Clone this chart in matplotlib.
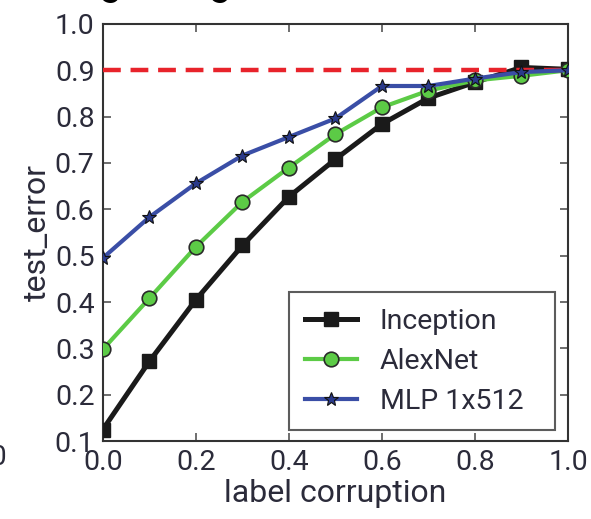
import numpy as np
import matplotlib
matplotlib.use("Agg")
import matplotlib.pyplot as plt

plt.rcParams['font.family'] = ['Roboto', 'DejaVu Sans']

corruption = [0.0, 0.1, 0.2, 0.3, 0.4, 0.5, 0.6, 0.7, 0.8, 0.9, 1.0]
inception = [0.125, 0.272, 0.405, 0.522, 0.627, 0.708, 0.784, 0.840, 0.874, 0.906, 0.902]
alexnet = [0.298, 0.408, 0.519, 0.616, 0.690, 0.762, 0.820, 0.856, 0.878, 0.888, 0.900]
mlp = [0.495, 0.583, 0.656, 0.716, 0.756, 0.796, 0.866, 0.866, 0.882, 0.896, 0.900]
chance = 0.9

xticks = [0.0, 0.2, 0.4, 0.6, 0.8, 1.0]
yticks = [0.1, 0.2, 0.3, 0.4, 0.5, 0.6, 0.7, 0.8, 0.9, 1.0]

TEXT = '#2b2b3a'

fig = plt.figure(figsize=(5.91, 5.19), dpi=100)
ax = fig.add_axes([0.174, 0.150, 0.787, 0.804])

ax.plot(corruption, inception, color='#1a1a1a', lw=3.6, marker='s', ms=10,
        mfc='#1a1a1a', mec='#1a1a1a', label='Inception', zorder=3)
ax.plot(corruption, alexnet, color='#5ccb46', lw=3.0, marker='o', ms=10.5,
        mfc='#5ccb46', mec='#2a2a2a', mew=1.2, label='AlexNet', zorder=4)
ax.plot(corruption, mlp, color='#3a4ea6', lw=3.0, marker='*', ms=10,
        mfc='#2a3a8a', mec='#111111', mew=0.8, label='MLP 1x512', zorder=5)
ax.axhline(chance, color='#e8232b', lw=3.2, dashes=(4.0, 2.2), zorder=4.5)

ax.set_xlim(0.0, 1.0)
ax.set_ylim(0.1, 1.0)
ax.set_xticks(xticks)
ax.set_yticks(yticks)
ax.set_xticklabels(['%.1f' % v for v in xticks])
ax.set_yticklabels(['%.1f' % v for v in yticks])
ax.tick_params(direction='in', top=True, right=True, length=6, width=1.2,
               color='#555555', labelsize=20.5, labelcolor=TEXT, pad=6)
for s in ax.spines.values():
    s.set_color('#333333')
    s.set_linewidth(1.5)

ax.set_xlabel('label corruption', fontsize=23, color=TEXT, labelpad=2)
ax.set_ylabel('test_error', fontsize=23, color=TEXT, labelpad=2)

# legend box stretched to the width seen in the reference
leg = ax.legend(loc='lower left', bbox_to_anchor=(0.40, 0.026, 0.572, 0.33),
                mode='expand', borderaxespad=0, fontsize=20.5, frameon=True,
                fancybox=False, edgecolor='#333333', handlelength=1.85,
                labelspacing=0.45, borderpad=0.55, handletextpad=0.8)
leg.get_frame().set_linewidth(1.5)
for t in leg.get_texts():
    t.set_color(TEXT)

# cropped remnants of the neighbouring page content
fig.text(-0.040, 1.009, 'Training and generalization', fontsize=29,
         color='black', ha='left', va='baseline')
fig.text(0.013, 0.118, '1.0', fontsize=20.5, color=TEXT, ha='right', va='center')

fig.savefig('out.png', dpi=100)
